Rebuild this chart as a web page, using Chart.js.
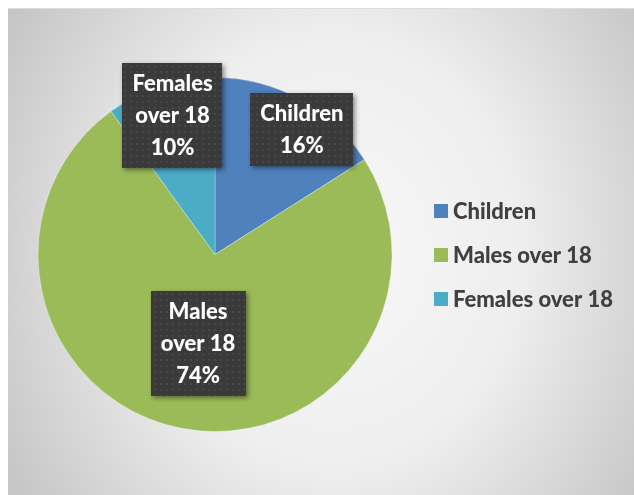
<!DOCTYPE html>
<html>
<head>
<meta charset="utf-8">
<script src="https://cdn.jsdelivr.net/npm/chart.js@4/dist/chart.umd.min.js"></script>
<style>
  html, body { margin: 0; padding: 0; background: #fff; }
  #wrap {
    position: absolute; left: 8px; top: 8px; width: 626px; height: 487px;
    border-top: 1px solid #dcdcdc;
    box-sizing: border-box;
    background: radial-gradient(ellipse 60% 90% at 52% 50%, #f8f8f8 0%, #eeeeee 50%, #c6c6c6 100%);
  }
</style>
</head>
<body>
<div id="wrap"><canvas id="pieChart" width="626" height="486"></canvas></div>
<script>
const categories = ["Children", "Males over 18", "Females over 18"];
const shares = [16, 74, 10];
const sliceColors = ["#4f81bd", "#9bbb59", "#4bacc6"];
const labelLines = [["Children"], ["Males", "over 18"], ["Females", "over 18"]];

const FONT = "Lato, 'Open Sans', sans-serif";

// dotted dark fill used by the data label boxes
function boxPattern(ctx) {
  const c = document.createElement("canvas");
  c.width = 6; c.height = 6;
  const p = c.getContext("2d");
  p.fillStyle = "#3a3a3a";
  p.fillRect(0, 0, 6, 6);
  p.fillStyle = "#474747";
  p.fillRect(2, 2, 2, 2);
  return ctx.createPattern(c, "repeat");
}

const labelPlugin = {
  id: "boxLabels",
  afterDatasetsDraw(chart, args, opts) {
    const ctx = chart.ctx;
    const meta = chart.getDatasetMeta(0);
    const total = shares.reduce((a, b) => a + b, 0);
    const pattern = boxPattern(ctx);
    ctx.save();
    ctx.font = "900 22px " + FONT;
    ctx.textAlign = "center";
    ctx.textBaseline = "middle";
    meta.data.forEach((arc, i) => {
      const p = arc.getProps(["x", "y", "startAngle", "endAngle", "outerRadius"], true);
      const mid = (p.startAngle + p.endAngle) / 2 + opts.shift[i] * Math.PI / 180;
      const r = p.outerRadius * opts.radius[i];
      const cx = p.x + Math.cos(mid) * r;
      const cy = p.y + Math.sin(mid) * r;
      const lines = labelLines[i].concat([Math.round(shares[i] / total * 100) + "%"]);
      const lh = 32;
      const w = Math.max(...lines.map(l => ctx.measureText(l).width)) + 20;
      const h = lines.length * lh + 9;
      ctx.save();
      ctx.shadowColor = "rgba(0,0,0,0.45)";
      ctx.shadowBlur = 5;
      ctx.shadowOffsetX = 2;
      ctx.shadowOffsetY = 2;
      ctx.fillStyle = pattern;
      ctx.fillRect(Math.round(cx - w / 2), Math.round(cy - h / 2), Math.round(w), h);
      ctx.restore();
      ctx.fillStyle = "#ffffff";
      lines.forEach((l, k) => {
        ctx.fillText(l, cx, cy - h / 2 + 5 + lh / 2 + k * lh);
      });
    });
    ctx.restore();
  }
};

const legendPlugin = {
  id: "sideLegend",
  afterDraw(chart) {
    const ctx = chart.ctx;
    ctx.save();
    ctx.font = "900 22px " + FONT;
    ctx.textBaseline = "middle";
    categories.forEach((name, i) => {
      const y = 202 + i * 44;
      ctx.fillStyle = sliceColors[i];
      ctx.fillRect(426, y - 7, 14, 14);
      ctx.fillStyle = "#404040";
      ctx.fillText(name, 445, y + 1);
    });
    ctx.restore();
  }
};

new Chart(document.getElementById("pieChart"), {
  type: "pie",
  data: {
    labels: categories,
    datasets: [{
      data: shares,
      backgroundColor: sliceColors,
      borderColor: "rgba(255,255,255,0.3)",
      borderWidth: 1
    }]
  },
  options: {
    responsive: false,
    animation: false,
    layout: { padding: { left: 29, right: 241, top: 68, bottom: 63 } },
    plugins: {
      legend: { display: false },
      tooltip: { enabled: false },
      boxLabels: { radius: [0.86, 0.51, 0.82], shift: [6, 0, 1] }
    }
  },
  plugins: [labelPlugin, legendPlugin]
});
</script>
</body>
</html>
